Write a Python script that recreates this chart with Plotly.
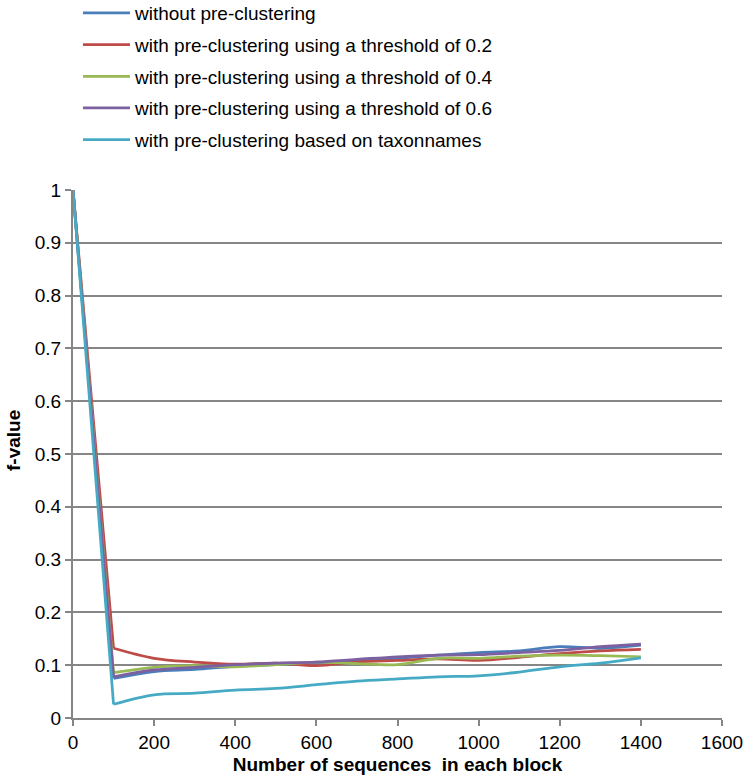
import plotly.graph_objects as go

x_vals = [0, 100, 200, 300, 400, 500, 600, 700, 800, 900, 1000, 1100, 1200, 1300, 1400]

without_pre = [1.0, 0.075, 0.088, 0.092, 0.098, 0.101, 0.104, 0.109, 0.113, 0.119, 0.124, 0.127, 0.135, 0.132, 0.138]
thr_02 = [1.0, 0.132, 0.113, 0.106, 0.102, 0.104, 0.099, 0.106, 0.109, 0.112, 0.109, 0.115, 0.122, 0.127, 0.130]
thr_04 = [1.0, 0.086, 0.096, 0.099, 0.097, 0.101, 0.106, 0.103, 0.101, 0.113, 0.113, 0.117, 0.119, 0.118, 0.116]
thr_06 = [1.0, 0.078, 0.091, 0.096, 0.101, 0.104, 0.106, 0.111, 0.116, 0.119, 0.120, 0.124, 0.128, 0.135, 0.140]
taxon = [1.0, 0.026, 0.044, 0.047, 0.053, 0.056, 0.063, 0.070, 0.074, 0.078, 0.080, 0.087, 0.097, 0.104, 0.114]

series_names = [
    "without pre-clustering",
    "with pre-clustering using a threshold of 0.2",
    "with pre-clustering using a threshold of 0.4",
    "with pre-clustering using a threshold of 0.6",
    "with pre-clustering based on taxonnames",
]
series_values = [without_pre, thr_02, thr_04, thr_06, taxon]
series_colors = ["#4A7EBB", "#BE4B48", "#98B954", "#7D60A0", "#46AAC5"]

x_ticks = [0, 200, 400, 600, 800, 1000, 1200, 1400, 1600]
y_ticks = [0, 0.1, 0.2, 0.3, 0.4, 0.5, 0.6, 0.7, 0.8, 0.9, 1]
y_tick_text = ["0", "0.1", "0.2", "0.3", "0.4", "0.5", "0.6", "0.7", "0.8", "0.9", "1"]

FONT = "Liberation Sans, Arial, sans-serif"
FS = 19
LW = 2.75

fig = go.Figure()
for i, (name, vals, col) in enumerate(zip(series_names, series_values, series_colors)):
    # steep initial drop (straight in the reference)
    fig.add_trace(go.Scatter(
        x=x_vals[:2], y=vals[:2], name=name, mode="lines",
        line=dict(color=col, width=LW), legendgroup=f"g{i}", showlegend=False,
        hoverinfo="skip",
    ))
    # smoothed remainder
    fig.add_trace(go.Scatter(
        x=x_vals[1:], y=vals[1:], name=name, mode="lines",
        line=dict(color=col, width=LW, shape="spline", smoothing=1.0),
        legendgroup=f"g{i}",
    ))

fig.update_layout(
    width=747, height=783,
    margin=dict(l=73, r=25, t=190, b=65, autoexpand=False),
    paper_bgcolor="white", plot_bgcolor="white",
    font=dict(family=FONT, size=FS, color="black"),
    showlegend=True,
    legend=dict(
        x=0.0077, y=1.3712, xref="paper", yref="paper",
        xanchor="left", yanchor="top",
        orientation="v", traceorder="grouped", tracegroupgap=4,
        itemwidth=47,
        font=dict(family=FONT, size=FS, color="black"),
        bgcolor="rgba(0,0,0,0)",
    ),
    xaxis=dict(
        range=[0, 1600], tickvals=x_ticks, ticktext=[str(v) for v in x_ticks],
        showgrid=False, zeroline=False, tickangle=0,
        showline=True, linecolor="#868686", linewidth=2,
        ticks="outside", ticklen=6, tickwidth=2, tickcolor="#868686",
        tickfont=dict(family=FONT, size=FS, color="black"),
        title=dict(text="<b>Number of sequences  in each block</b>",
                   font=dict(family=FONT, size=FS, color="black"), standoff=6),
    ),
    yaxis=dict(
        range=[0, 1], tickvals=y_ticks, ticktext=y_tick_text,
        showgrid=True, gridcolor="#868686", gridwidth=2, zeroline=False,
        showline=True, linecolor="#868686", linewidth=2,
        ticks="outside", ticklen=6, tickwidth=2, tickcolor="#868686",
        tickfont=dict(family=FONT, size=FS, color="black"),
    ),
    annotations=[dict(
        text="<b>f-value</b>", textangle=-90, showarrow=False,
        xref="paper", yref="paper", x=-0.0925, y=0.5265,
        xanchor="center", yanchor="middle",
        font=dict(family=FONT, size=FS, color="black"),
    )],
)

fig.write_html("out.html", config={"displayModeBar": False},
               post_script="document.body.style.margin='0';")
